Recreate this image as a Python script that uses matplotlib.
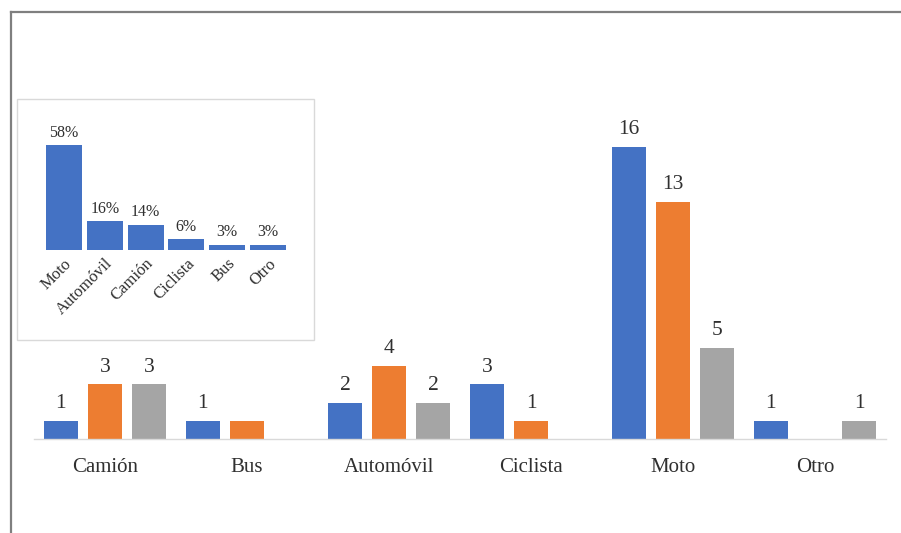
import matplotlib
matplotlib.use("Agg")
import matplotlib.pyplot as plt
from matplotlib.lines import Line2D
from matplotlib.patches import Rectangle
import numpy as np

plt.rcParams["font.family"] = ["Liberation Serif", "DejaVu Serif"]

# Main chart: accidents by vehicle type, three series
categories = ["Camión", "Bus", "Automóvil", "Ciclista", "Moto", "Otro"]
series_a = [1, 1, 2, 3, 16, 1]
series_b = [3, 1, 4, 1, 13, 0]
series_c = [3, 0, 2, 0, 5, 1]
# bars whose value label is not printed: (series index, category index)
unlabeled = {(1, 1)}

# Inset: share of total by vehicle type
share_labels = ["Moto", "Automóvil", "Camión", "Ciclista", "Bus", "Otro"]
share_values = [58, 16, 14, 6, 3, 3]

BLUE = "#4472C4"
ORANGE = "#ED7D31"
GRAY = "#A5A5A5"
TEXT = "#303030"

W, H = 901, 533
fig = plt.figure(figsize=(W / 100, H / 100), dpi=100)


def px_rect(x0, y0, x1, y1):
    """Figure-fraction rectangle from pixel box (top-left origin)."""
    return [x0 / W, (H - y1) / H, (x1 - x0) / W, (y1 - y0) / H]


# outer frame (left and top rules)
frame_col = "#7f7f7f"
fig.add_artist(Line2D([11 / W, 11 / W], [0, 1 - 12 / H], color=frame_col, lw=1.6,
                      transform=fig.transFigure))
fig.add_artist(Line2D([11 / W, 1], [1 - 12 / H, 1 - 12 / H], color=frame_col, lw=1.6,
                      transform=fig.transFigure))

# ---- main grouped bar chart ----
ax = fig.add_axes(px_rect(34, 74, 886, 439))
x = np.arange(len(categories))
width = 0.24
offsets = [-0.31, 0.0, 0.31]
colors = [BLUE, ORANGE, GRAY]
for si, (vals, off, col) in enumerate(zip([series_a, series_b, series_c], offsets, colors)):
    for ci, v in enumerate(vals):
        if v == 0:
            continue
        ax.bar(x[ci] + off, v, width=width, color=col, linewidth=0)
        if (si, ci) not in unlabeled:
            ax.annotate(f"{v}", (x[ci] + off, v), xytext=(0, 5.5), textcoords="offset points",
                        ha="center", va="bottom", fontsize=15.5, color=TEXT)

ax.set_xlim(-0.5, len(categories) - 0.5)
ax.set_ylim(0, 20)
ax.set_xticks(x)
ax.set_xticklabels(categories, fontsize=15, color=TEXT)
ax.tick_params(axis="x", length=0, pad=14)
ax.set_yticks([])
for side in ["left", "right", "top"]:
    ax.spines[side].set_visible(False)
ax.spines["bottom"].set_color("#d9d9d9")
ax.spines["bottom"].set_linewidth(1.0)
ax.patch.set_alpha(0)

# ---- inset: percentage distribution ----
fig.add_artist(Rectangle((17 / W, 1 - 340 / H), (314 - 17) / W, (340 - 99) / H,
                         transform=fig.transFigure, facecolor="white",
                         edgecolor="#d9d9d9", lw=1.0, zorder=3))
iax = fig.add_axes(px_rect(43.6, 123, 288.4, 250), zorder=4)
ix = np.arange(len(share_labels))
iax.bar(ix, share_values, width=0.88, color=BLUE, linewidth=0)
for xi, v in zip(ix, share_values):
    iax.annotate(f"{v}%", (xi, v), xytext=(0, 3), textcoords="offset points",
                 ha="center", va="bottom", fontsize=11.5, color=TEXT)
iax.set_xlim(-0.5, len(share_labels) - 0.5)
iax.set_ylim(0, 70)
iax.set_yticks([])
iax.set_xticks(ix)
iax.set_xticklabels(share_labels, rotation=45, ha="right", rotation_mode="anchor",
                    fontsize=12, color=TEXT)
iax.tick_params(axis="x", length=0, pad=4)
for side in iax.spines:
    iax.spines[side].set_visible(False)
iax.patch.set_alpha(0)

fig.savefig("out.png", dpi=100, facecolor="white")
